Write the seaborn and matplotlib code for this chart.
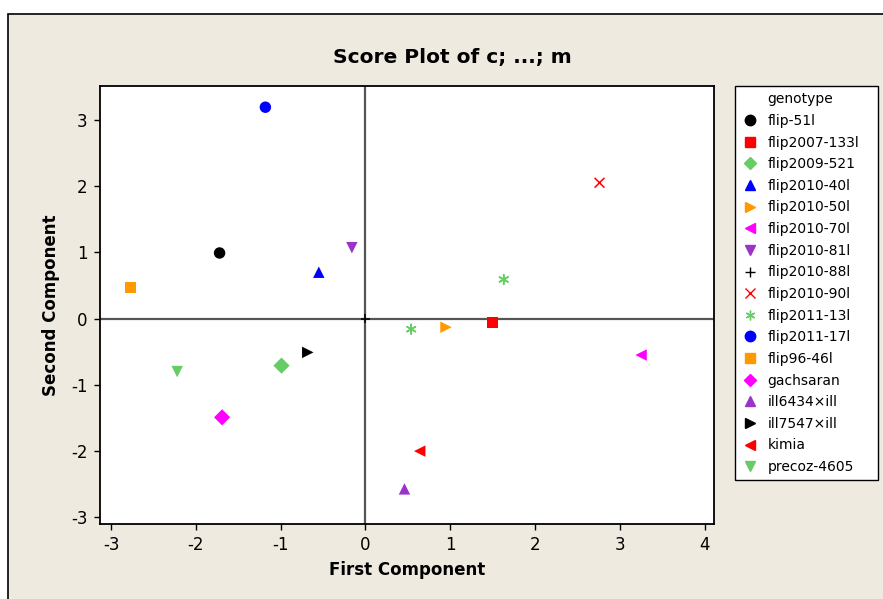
import numpy as np
import pandas as pd
import matplotlib
matplotlib.use("Agg")
import matplotlib.pyplot as plt
from matplotlib.lines import Line2D
from matplotlib.patches import Rectangle
import seaborn as sns

plt.rcParams["axes.unicode_minus"] = False

# ── data ───────────────────────────────────────────────────
genotypes = ["flip-51l", "flip2007-133l", "flip2009-521", "flip2010-40l",
             "flip2010-50l", "flip2010-70l", "flip2010-81l", "flip2010-88l",
             "flip2010-90l", "flip2011-13l", "flip2011-17l", "flip96-46l",
             "gachsaran", "ill6434×ill", "ill7547×ill", "kimia", "precoz-4605"]

point_genotype = ["flip-51l", "flip2007-133l", "flip2009-521", "flip2010-40l",
                  "flip2010-50l", "flip2010-70l", "flip2010-81l", "flip2010-88l",
                  "flip2010-90l", "flip2011-13l", "flip2011-13l", "flip2011-17l",
                  "flip96-46l", "gachsaran", "ill6434×ill", "ill7547×ill",
                  "kimia", "precoz-4605"]
first_comp = [-1.72, 1.50, -0.99, -0.55, 0.95, 3.25, -0.16, 0.00, 2.76,
              1.63, 0.54, -1.18, -2.77, -1.69, 0.46, -0.68, 0.64, -2.22]
second_comp = [0.99, -0.06, -0.71, 0.70, -0.13, -0.55, 1.07, 0.00, 2.05,
               0.59, -0.16, 3.19, 0.47, -1.49, -2.57, -0.51, -2.00, -0.80]

COLORS = {
    "flip-51l": "#000000", "flip2007-133l": "#FF0000", "flip2009-521": "#66CC66",
    "flip2010-40l": "#0000FF", "flip2010-50l": "#FF9900", "flip2010-70l": "#FF00FF",
    "flip2010-81l": "#9933CC", "flip2010-88l": "#000000", "flip2010-90l": "#FF0000",
    "flip2011-13l": "#66CC66", "flip2011-17l": "#0000FF", "flip96-46l": "#FF9900",
    "gachsaran": "#FF00FF", "ill6434×ill": "#9933CC", "ill7547×ill": "#000000",
    "kimia": "#FF0000", "precoz-4605": "#66CC66",
}
MARKERS = {
    "flip-51l": "o", "flip2007-133l": "s", "flip2009-521": "D", "flip2010-40l": "^",
    "flip2010-50l": ">", "flip2010-70l": "<", "flip2010-81l": "v", "flip2010-88l": "+",
    "flip2010-90l": "x", "flip2011-13l": (6, 2, 0), "flip2011-17l": "o",
    "flip96-46l": "s", "gachsaran": "D", "ill6434×ill": "^", "ill7547×ill": ">",
    "kimia": "<", "precoz-4605": "v",
}
LINE_ART = ["flip2010-88l", "flip2010-90l", "flip2011-13l"]

df = pd.DataFrame({"genotype": point_genotype, "pc1": first_comp, "pc2": second_comp})

BG = "#EEEAE0"
W, H = 883, 599

fig = plt.figure(figsize=(W / 100, H / 100), dpi=100, facecolor="white")
fig.patches.append(Rectangle((8 / W, -0.05), 1.2, 1 - 14 / H + 0.05, transform=fig.transFigure,
                             facecolor=BG, edgecolor="black", linewidth=1.2, zorder=-5))

ax = fig.add_axes([100 / W, 1 - 524 / H, 614 / W, 438 / H])
ax.set_facecolor("white")

filled = df[~df["genotype"].isin(LINE_ART)]
lines = df[df["genotype"].isin(LINE_ART)]

sns.scatterplot(data=filled, x="pc1", y="pc2", hue="genotype", style="genotype",
                palette={g: COLORS[g] for g in filled["genotype"].unique()},
                markers={g: MARKERS[g] for g in filled["genotype"].unique()},
                s=68, linewidth=0, legend=False, ax=ax, zorder=3)
sns.scatterplot(data=lines, x="pc1", y="pc2", hue="genotype", style="genotype",
                palette={g: COLORS[g] for g in lines["genotype"].unique()},
                markers={g: MARKERS[g] for g in lines["genotype"].unique()},
                s=50, linewidth=1.1, legend=False, ax=ax, zorder=3)

ax.axhline(0, color="#555555", lw=1.6, zorder=1)
ax.axvline(0, color="#555555", lw=1.6, zorder=1)

ax.set_xlim(-3.13, 4.11)
ax.set_ylim(-3.10, 3.51)
ax.set_xticks(range(-3, 5))
ax.set_yticks(range(-3, 4))
ax.tick_params(direction="out", length=4, width=1, labelsize=12, pad=5)
for sp in ax.spines.values():
    sp.set_linewidth(1.3)
    sp.set_color("black")

ax.set_xlabel("First Component", fontsize=12, fontweight="bold", labelpad=5)
ax.set_ylabel("Second Component", fontsize=12, fontweight="bold", labelpad=8)
fig.text(452 / W, 1 - 57 / H, "Score Plot of c; ...; m", ha="center", va="center",
         fontsize=14.5, fontweight="bold")

handles = [Line2D([], [], linestyle="none", marker="none")]
labels = ["genotype"]
for g in genotypes:
    m = MARKERS[g]
    if g in LINE_ART:
        h = Line2D([], [], linestyle="none", marker=m, color=COLORS[g],
                   markersize=7, markeredgewidth=1.0)
    else:
        h = Line2D([], [], linestyle="none", marker=m, color=COLORS[g],
                   markeredgecolor=COLORS[g], markersize=7.5 if m not in ("s", "D") else 6.5)
    handles.append(h)
    labels.append(g)

leg = ax.legend(handles, labels, loc="upper left",
                bbox_to_anchor=(735 / W, 1 - 478 / H, 143 / W, 392 / H),
                bbox_transform=fig.transFigure, mode="expand", borderaxespad=0,
                frameon=True, fancybox=False, edgecolor="black", framealpha=1,
                fontsize=10, handlelength=1.2, handletextpad=0.7, labelspacing=0.55,
                borderpad=0.45)
leg.get_frame().set_linewidth(1.0)

fig.savefig("out.png", dpi=100, facecolor=fig.get_facecolor())
